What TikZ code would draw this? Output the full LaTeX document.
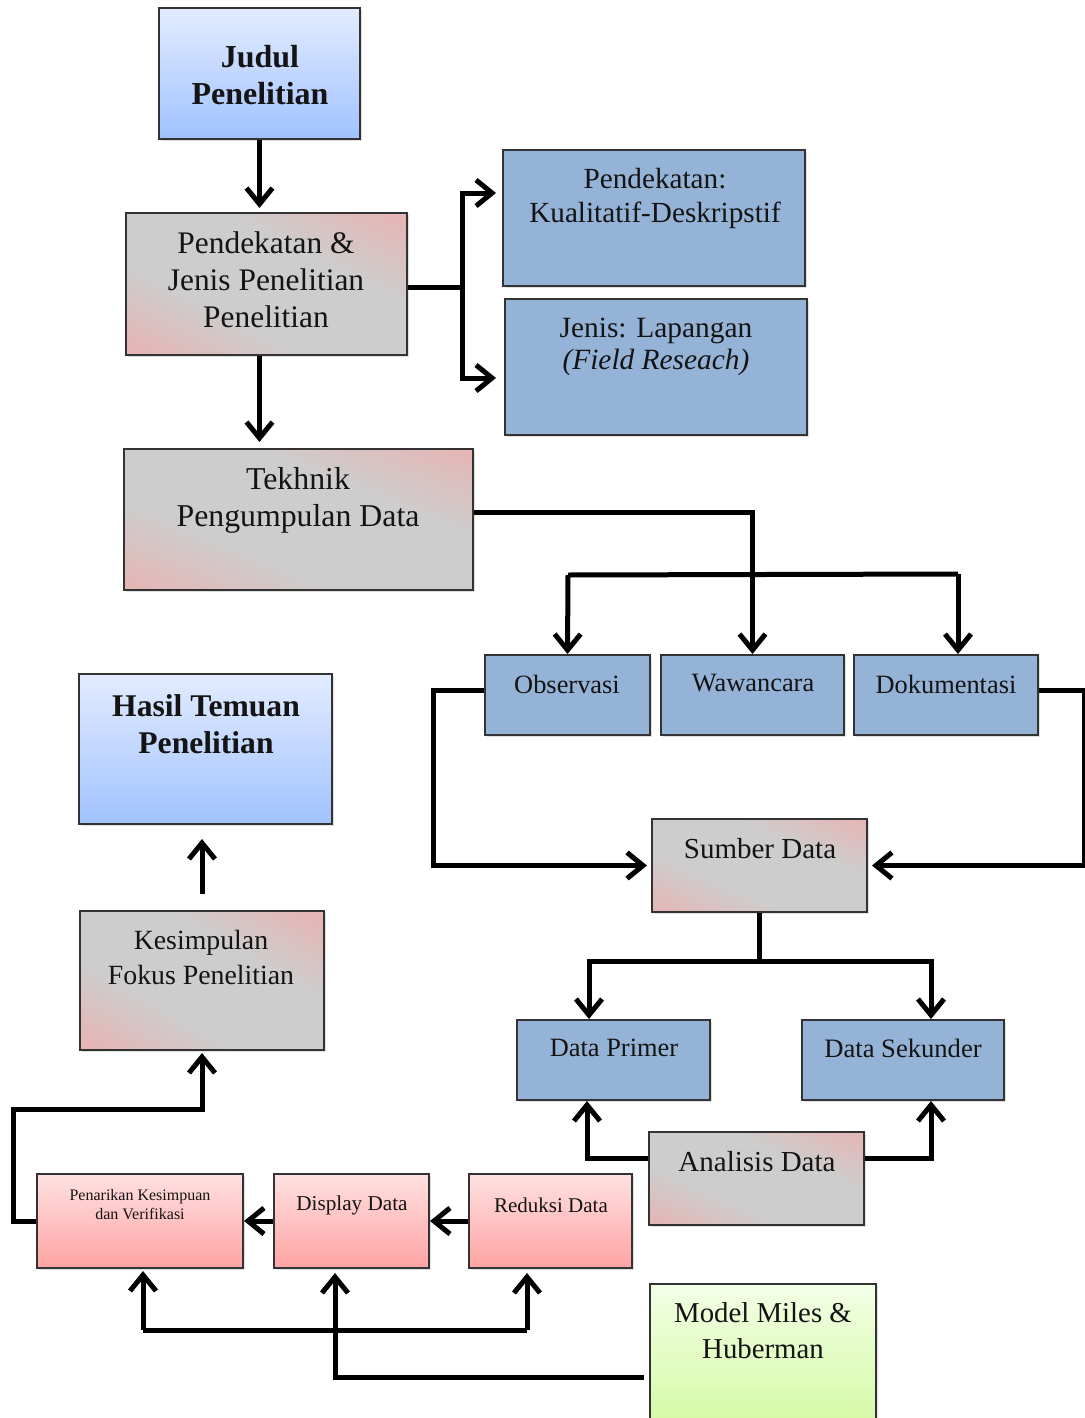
\documentclass[tikz,border=0pt]{standalone}
\usepackage{fontspec}
\setmainfont{Liberation Serif}
\usetikzlibrary{arrows.meta,fit,shadows}

\definecolor{rosy}{HTML}{E6B5B5}
\definecolor{greyc}{HTML}{CDCDCD}
\definecolor{flatblue}{HTML}{95B3D7}
\definecolor{skytop}{HTML}{E2ECFF}
\definecolor{skybot}{HTML}{A1C2FF}
\definecolor{pinktop}{HTML}{FFE1E1}
\definecolor{pinkbot}{HTML}{FFA3A3}
\definecolor{limetop}{HTML}{F3FFE6}
\definecolor{limebot}{HTML}{D2FAA2}
\definecolor{ink}{HTML}{141414}

% rose corners fading into a broad grey band
\pgfdeclareverticalshading{rosegrey}{100bp}{color(0bp)=(rosy); color(18bp)=(rosy);
  color(38bp)=(greyc); color(62bp)=(greyc); color(82bp)=(rosy); color(100bp)=(rosy)}

\newcommand\fsz[2]{\fontsize{#1}{#2}\selectfont}

\begin{document}
\begin{tikzpicture}[x=0.5pt,y=-0.5pt,
  box/.style={rectangle, draw=black!80, line width=1pt, inner sep=0pt,
    drop shadow={opacity=0.25, shadow xshift=1.2pt, shadow yshift=-1.2pt}},
  sky/.style={box, top color=skytop, bottom color=skybot},
  % the grey band runs along the top-left/bottom-right diagonal of the box
  diag/.style={box, shade, shading=rosegrey, shading angle=#1},
  flat/.style={box, fill=flatblue},
  pinkbox/.style={box, top color=pinktop, bottom color=pinkbot},
  limebox/.style={box, top color=limetop, bottom color=limebot},
  txt/.style={align=center, inner sep=0pt, text=ink},
  line/.style={line width=2.5pt, draw=black},
  conn/.style={line, -{Straight Barb[length=8pt,width=13pt]}},
]
\useasboundingbox (0,0) rectangle (1084,1418);

% ---------- boxes ----------
\node[sky,  fit={(159,8)(360,139)}]     (judul) {};
\node[diag=-26.8, fit={(126,213)(407,355)}]   (pend) {};
\node[flat, fit={(503,150)(805,286)}]   (kual) {};
\node[flat, fit={(505,299)(807,435)}]   (jenis) {};
\node[diag=-22, fit={(124,449)(473,590)}]   (tek) {};
\node[flat, fit={(485,655)(650,735)}]   (obs) {};
\node[flat, fit={(661,655)(844,735)}]   (waw) {};
\node[flat, fit={(854,655)(1038,735)}]  (dok) {};
\node[diag=-23.4, fit={(652,819)(867,912)}]   (sumber) {};
\node[flat, fit={(517,1020)(710,1100)}] (dp) {};
\node[flat, fit={(802,1020)(1004,1100)}](ds) {};
\node[diag=-23.4, fit={(649,1132)(864,1225)}] (ana) {};
\node[limebox, fit={(650,1284)(876,1430)}] (model) {};
\node[sky,  fit={(79,674)(332,824)}]    (hasil) {};
\node[diag=-29.7, fit={(80,911)(324,1050)}]   (kes) {};
\node[pinkbox, fit={(37,1174)(243,1268)}]  (pen) {};
\node[pinkbox, fit={(274,1174)(429,1268)}] (disp) {};
\node[pinkbox, fit={(469,1174)(632,1268)}] (red) {};

% ---------- labels ----------
\node[txt, font=\fsz{16}{18.5}\bfseries] (judul-t) at (260,75) {Judul\\Penelitian};
\node[txt, font=\fsz{15.7}{18.5}] (pend-t) at (266,280) {Pendekatan \&\\Jenis Penelitian\\Penelitian};
\node[txt, font=\fsz{14.6}{17}] (kual-t) at (655,198) {Pendekatan:\\Kualitatif-Deskripstif};
\node[txt, font=\fsz{14.7}{16}] (jenis-t) at (656,347) {Jenis: Lapangan\\\textit{(Field Reseach)}};
\node[txt, font=\fsz{15.9}{18.5}] (tek-t) at (298,500) {Tekhnik\\Pengumpulan Data};
\node[txt, font=\fsz{13.2}{16}] (obs-t) at (567,684) {Observasi};
\node[txt, font=\fsz{13.2}{16}] (waw-t) at (753,683) {Wawancara};
\node[txt, font=\fsz{13.2}{16}] (dok-t) at (946,684) {Dokumentasi};
\node[txt, font=\fsz{14.5}{17}] (sumber-t) at (760,849) {Sumber Data};
\node[txt, font=\fsz{13.2}{16}] (dp-t) at (614,1048) {Data Primer};
\node[txt, font=\fsz{13.3}{16}] (ds-t) at (903,1048) {Data Sekunder};
\node[txt, font=\fsz{14.5}{17}] (ana-t) at (757,1162) {Analisis Data};
\node[txt, font=\fsz{14.4}{18}] (model-t) at (763,1331) {Model Miles \&\\Huberman};
\node[txt, font=\fsz{15.8}{18.5}\bfseries] (hasil-t) at (206,724) {Hasil Temuan\\Penelitian};
\node[txt, font=\fsz{13.9}{17.5}] (kes-t) at (201,957) {Kesimpulan\\Fokus Penelitian};
\node[txt, font=\fsz{8}{9.5}] (pen-t) at (140,1205) {Penarikan Kesimpuan\\dan Verifikasi};
\node[txt, font=\fsz{10.6}{12}] (disp-t) at (352,1205) {Display Data};
\node[txt, font=\fsz{10.5}{12}] (red-t) at (551,1205) {Reduksi Data};

% ---------- connectors ----------
\draw[conn, shorten >=2pt] (judul.south) -- (judul.south |- pend.north);

\coordinate (fork1) at (462,287);
\draw[line] ([yshift=-1.5pt]pend.east) -- (fork1);
\draw[conn, shorten >=3pt] (fork1) |- ([yshift=12.5pt]kual.west);
\draw[conn, shorten >=4pt] (fork1) |- ([yshift=-5.5pt]jenis.west);

\draw[conn, shorten >=3pt] (pend.south -| judul.south) -- (judul.south |- tek.north);

\draw[conn] ([yshift=3.75pt]tek.east) -| (waw.north);
\coordinate (bus1) at (568,575);
\draw[line] (bus1) -- ([xshift=6pt,yshift=40pt]dok.north);
\draw[conn] (bus1) -- (obs.north);
\draw[conn] ([xshift=6pt,yshift=40pt]dok.north) -- ([xshift=6pt]dok.north);

\draw[conn, shorten >=2pt] ([yshift=2.5pt]obs.west) -- ++(-51,0) |- (sumber.west);
\draw[conn, shorten >=2pt] ([yshift=2.5pt]dok.east) -- ++(45,0) |- (sumber.east);

\draw[line] (sumber.south) -- ++(0,48) coordinate (sfork);
\draw[conn] (sfork) -| ([xshift=-12.25pt]dp.north);
\draw[conn] (sfork) -| ([xshift=14pt]ds.north);

\draw[conn] ([yshift=10.25pt]ana.west) -| ([xshift=-13.25pt]dp.south);
\draw[conn] ([yshift=10.25pt]ana.east) -| ([xshift=14pt]ds.south);

\draw[conn, shorten <=2.5pt, shorten >=2pt] ([yshift=-10pt]model.west) -| ([xshift=-8.25pt]disp.south);
\draw[line] ([xshift=-11.75pt,yshift=-30.5pt]red.south) -- ([xshift=1.5pt,yshift=-30.5pt]pen.south);
\draw[conn, shorten >=2pt] ([xshift=-11.75pt,yshift=-30.5pt]red.south) -- ([xshift=-11.75pt]red.south);
\draw[conn, shorten >=1pt] ([xshift=1.5pt,yshift=-30.5pt]pen.south) -- ([xshift=1.5pt]pen.south);

\draw[conn] (red.west) -- (disp.east);
\draw[conn] (disp.west) -- (pen.east);

\draw[conn, shorten >=1pt] (pen.west) -- ++(-23,0) -- ++(0,-112) -| (kes.south);
\draw[conn, shorten <=8pt, shorten >=7pt] (kes.north) -- (kes.north |- hasil.south);
\end{tikzpicture}
\end{document}
